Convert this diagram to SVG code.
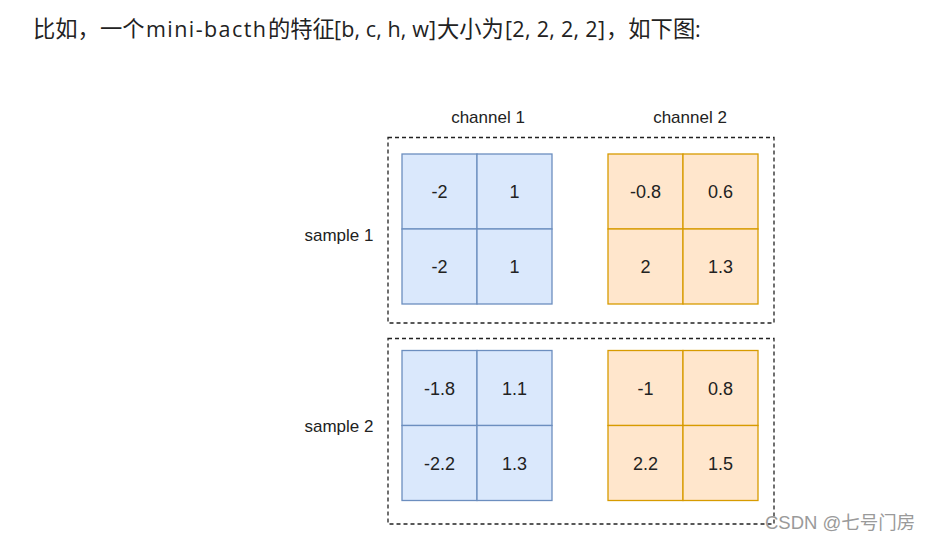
<svg xmlns="http://www.w3.org/2000/svg" width="932" height="540" viewBox="0 0 932 540">
<style>
.hdr{font-family:"Open Sans","Noto Sans CJK SC",sans-serif;font-size:21.5px;fill:#222}
.cjk{font-family:"Noto Sans CJK SC",sans-serif;font-size:22.3px}
.lbl{font-family:"Liberation Sans",Arial,sans-serif;font-size:17px;fill:#222}
.num{font-family:"Liberation Sans",Arial,sans-serif;font-size:18px;fill:#222;text-anchor:middle}
.dash{fill:none;stroke:#222;stroke-width:1.3;stroke-dasharray:4 3}
.blue{fill:#dae8fc;stroke:#6c8ebf;stroke-width:1.3}
.orange{fill:#ffe6cc;stroke:#d79b00;stroke-width:1.3}
.wm{font-family:"Liberation Sans","Noto Sans CJK SC",sans-serif;font-size:18.5px;fill:#9a9a9a}
</style>
<rect width="932" height="540" fill="#ffffff"/>
<text class="hdr" y="37"><tspan class="cjk" x="33">比如，一个</tspan><tspan x="146" textLength="120" lengthAdjust="spacing">mini-bacth</tspan><tspan class="cjk" x="268">的特征</tspan><tspan x="334" textLength="102" lengthAdjust="spacing">[b, c, h, w]</tspan><tspan class="cjk" x="437">大小为</tspan><tspan x="505" textLength="100" lengthAdjust="spacing">[2, 2, 2, 2]</tspan><tspan class="cjk" x="606">，如下图</tspan><tspan x="695">:</tspan></text>
<text class="lbl" x="488" y="123" text-anchor="middle">channel 1</text>
<text class="lbl" x="690" y="123" text-anchor="middle">channel 2</text>
<text class="lbl" x="339" y="241" text-anchor="middle">sample 1</text>
<text class="lbl" x="339" y="432" text-anchor="middle">sample 2</text>
<g id="sample1">
<rect class="dash" x="388" y="137.5" width="386" height="185.5"/>
<g id="s1c1">
<rect class="blue" x="402" y="154" width="75" height="75"/>
<rect class="blue" x="477" y="154" width="75" height="75"/>
<rect class="blue" x="402" y="229" width="75" height="75"/>
<rect class="blue" x="477" y="229" width="75" height="75"/>
<text class="num" x="439.5" y="198">-2</text>
<text class="num" x="514.5" y="198">1</text>
<text class="num" x="439.5" y="273">-2</text>
<text class="num" x="514.5" y="273">1</text>
</g>
<g id="s1c2">
<rect class="orange" x="608" y="154" width="75" height="75"/>
<rect class="orange" x="683" y="154" width="75" height="75"/>
<rect class="orange" x="608" y="229" width="75" height="75"/>
<rect class="orange" x="683" y="229" width="75" height="75"/>
<text class="num" x="645.5" y="198">-0.8</text>
<text class="num" x="720.5" y="198">0.6</text>
<text class="num" x="645.5" y="273">2</text>
<text class="num" x="720.5" y="273">1.3</text>
</g>
</g>
<g id="sample2">
<rect class="dash" x="388" y="338.5" width="386" height="185.5"/>
<g id="s2c1">
<rect class="blue" x="402" y="350.5" width="75" height="75"/>
<rect class="blue" x="477" y="350.5" width="75" height="75"/>
<rect class="blue" x="402" y="425.5" width="75" height="75"/>
<rect class="blue" x="477" y="425.5" width="75" height="75"/>
<text class="num" x="439.5" y="395">-1.8</text>
<text class="num" x="514.5" y="395">1.1</text>
<text class="num" x="439.5" y="470">-2.2</text>
<text class="num" x="514.5" y="470">1.3</text>
</g>
<g id="s2c2">
<rect class="orange" x="608" y="350.5" width="75" height="75"/>
<rect class="orange" x="683" y="350.5" width="75" height="75"/>
<rect class="orange" x="608" y="425.5" width="75" height="75"/>
<rect class="orange" x="683" y="425.5" width="75" height="75"/>
<text class="num" x="645.5" y="395">-1</text>
<text class="num" x="720.5" y="395">0.8</text>
<text class="num" x="645.5" y="470">2.2</text>
<text class="num" x="720.5" y="470">1.5</text>
</g>
</g>
<g id="connectors"></g>
<text class="wm" x="765" y="529">CSDN @七号门房</text>
</svg>
